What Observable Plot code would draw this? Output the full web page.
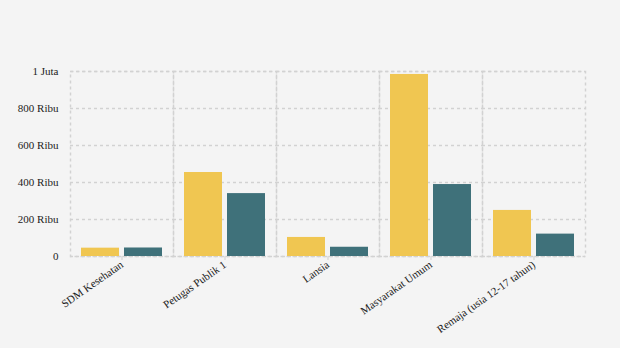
<!DOCTYPE html>
<html><head><meta charset="utf-8">
<script src="https://cdn.jsdelivr.net/npm/d3@7"></script>
<script src="https://cdn.jsdelivr.net/npm/@observablehq/plot@0.6"></script>
<style>
html,body{margin:0;padding:0;background:#f4f4f4;}
</style>
</head><body><div id="chart"></div>
<script>
const categories = ["SDM Kesehatan", "Petugas Publik 1", "Lansia", "Masyarakat Umum", "Remaja (usia 12-17 tahun)"];
const series = ["Dosis 1", "Dosis 2"];
const dosis1 = [45000, 454000, 103000, 984000, 249000];
const dosis2 = [46000, 340000, 50000, 389000, 121000];
const yTicks = [0, 200000, 400000, 600000, 800000, 1000000];
const colors = ["#f0c651", "#3f717a"];

const data = [];
categories.forEach((c, i) => {
  data.push({category: c, series: series[0], value: dosis1[i]});
  data.push({category: c, series: series[1], value: dosis2[i]});
});

const fmt = d => d === 0 ? "0" : d >= 1e6 ? (d / 1e6) + " Juta" : (d / 1000) + " Ribu";
const grid = {stroke: "#d2d2d2", strokeOpacity: 1, strokeWidth: 1.5, strokeDasharray: "3,3"};

const chart = Plot.plot({
  width: 620,
  height: 348,
  marginLeft: 69,
  marginRight: 35,
  marginTop: 71,
  marginBottom: 92,
  style: {background: "#f4f4f4", fontFamily: "'Liberation Serif', 'Times New Roman', serif", fontSize: "11px", color: "#222"},
  fx: {domain: categories, padding: 0, label: null, axis: null},
  x: {domain: series, paddingInner: 0.11, paddingOuter: 0.23, axis: null},
  y: {domain: [0, 1000000], ticks: yTicks, tickFormat: fmt, tickSize: 0, tickPadding: 12, label: null},
  color: {domain: series, range: colors},
  marks: [
    Plot.gridY(yTicks, grid),
    Plot.frame(grid),
    Plot.barY(data, {fx: "category", x: "series", y: "value", fill: "series"}),
    Plot.axisFx({anchor: "bottom", tickRotate: -35, tickSize: 4, tickPadding: 3, stroke: "#cfcfcf", label: null, fontSize: "11px"})
  ]
});
document.getElementById("chart").appendChild(chart);
</script>
</body></html>
